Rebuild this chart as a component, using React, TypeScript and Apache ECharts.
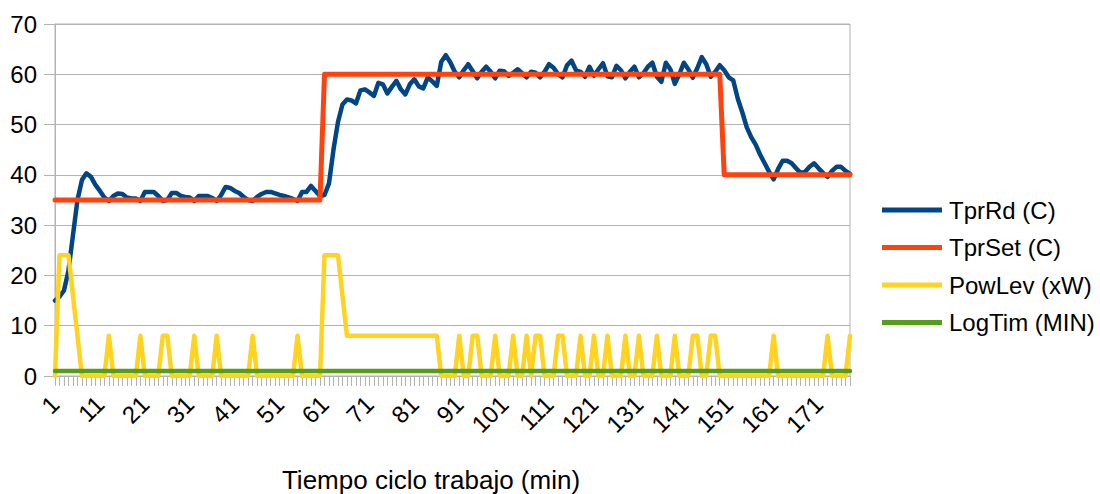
import React, { useEffect, useRef } from "react";
import * as echarts from "echarts";

const FONT = "Liberation Sans";

const categories: string[] = Array.from({ length: 178 }, (_, i) => String(i + 1));

const seriesNames = ["TprRd (C)", "TprSet (C)", "PowLev (xW)", "LogTim (MIN)"];
const seriesColors = ["#004586", "#ff420e", "#ffd320", "#579d1c"];

const tprRd = [
  15, 15.8, 17, 21, 28, 35, 39, 40.3, 39.6, 38,
  36.8, 35.5, 34.8, 35.8, 36.3, 36.2, 35.5, 35.3, 35.3, 34.8,
  36.6, 36.6, 36.6, 35.8, 34.8, 35, 36.4, 36.4, 35.8, 35.6,
  35.5, 34.8, 35.8, 35.8, 35.8, 35.4, 34.8, 36, 37.6, 37.4,
  36.8, 36.4, 35.6, 35, 34.8, 35.6, 36.2, 36.6, 36.6, 36.3,
  36, 35.8, 35.5, 35.2, 34.8, 36.6, 36.6, 37.8, 36.8, 35.8,
  36, 38.3, 45, 50.5, 54, 55, 54.8, 54.2, 56.8, 57,
  56.4, 55.7, 58.3, 58, 56.2, 57.5, 58.7, 57, 56, 58,
  59, 57.6, 57.2, 59.4, 58.6, 57.7, 62.5, 63.8, 62.4, 60.5,
  59.4, 60.8, 62, 60.6, 59.2, 60.5, 61.5, 60.5, 59.2, 60.7,
  60.6, 59.7, 60.3, 61, 60.2, 59.4, 60.5, 60.3, 59.4, 60.5,
  62, 61.3, 60, 59.4, 61.8, 62.7, 60.8, 60.5, 59.5, 61.5,
  59.7, 61, 62.2, 59.6, 59.4, 61.7, 60.8, 59.2, 60.5, 61.5,
  59.4, 60.2, 61.5, 62.3, 59.5, 58.5, 62.3, 61, 58.1, 60,
  62.3, 61, 59.3, 61.2, 63.4, 62, 59.5, 60.5, 61.8, 60.8,
  59.4, 58.8, 55.2, 52.5, 49.5, 47.5, 46, 44, 42.3, 40.6,
  39.1, 41.2, 42.8, 42.8, 42.3, 41.3, 40.4, 40.6, 41.6, 42.3,
  41.3, 40.4, 39.6, 40.8, 41.6, 41.6, 40.8, 40.2,
];

const tprSet = [
  35, 35, 35, 35, 35, 35, 35, 35, 35, 35,
  35, 35, 35, 35, 35, 35, 35, 35, 35, 35,
  35, 35, 35, 35, 35, 35, 35, 35, 35, 35,
  35, 35, 35, 35, 35, 35, 35, 35, 35, 35,
  35, 35, 35, 35, 35, 35, 35, 35, 35, 35,
  35, 35, 35, 35, 35, 35, 35, 35, 35, 35,
  60, 60, 60, 60, 60, 60, 60, 60, 60, 60,
  60, 60, 60, 60, 60, 60, 60, 60, 60, 60,
  60, 60, 60, 60, 60, 60, 60, 60, 60, 60,
  60, 60, 60, 60, 60, 60, 60, 60, 60, 60,
  60, 60, 60, 60, 60, 60, 60, 60, 60, 60,
  60, 60, 60, 60, 60, 60, 60, 60, 60, 60,
  60, 60, 60, 60, 60, 60, 60, 60, 60, 60,
  60, 60, 60, 60, 60, 60, 60, 60, 60, 60,
  60, 60, 60, 60, 60, 60, 60, 60, 60, 40,
  40, 40, 40, 40, 40, 40, 40, 40, 40, 40,
  40, 40, 40, 40, 40, 40, 40, 40, 40, 40,
  40, 40, 40, 40, 40, 40, 40, 40,
];

const powLev = [
  0, 24, 24, 24, 16, 8, 0, 0, 0, 0,
  0, 0, 8, 0, 0, 0, 0, 0, 0, 8,
  0, 0, 0, 0, 8, 8, 0, 0, 0, 0,
  0, 8, 0, 0, 0, 0, 8, 0, 0, 0,
  0, 0, 0, 0, 8, 0, 0, 0, 0, 0,
  0, 0, 0, 0, 8, 0, 0, 0, 0, 0,
  24, 24, 24, 24, 16, 8, 8, 8, 8, 8,
  8, 8, 8, 8, 8, 8, 8, 8, 8, 8,
  8, 8, 8, 8, 8, 8, 0, 0, 0, 0,
  8, 0, 0, 8, 8, 0, 0, 0, 8, 0,
  0, 0, 8, 0, 0, 8, 0, 8, 8, 0,
  0, 0, 8, 8, 0, 0, 0, 8, 0, 0,
  8, 0, 0, 8, 0, 0, 0, 8, 0, 0,
  8, 0, 0, 0, 8, 0, 0, 0, 8, 0,
  0, 0, 8, 8, 0, 0, 8, 8, 0, 0,
  0, 0, 0, 0, 0, 0, 0, 0, 0, 0,
  8, 0, 0, 0, 0, 0, 0, 0, 0, 0,
  0, 0, 8, 0, 0, 0, 0, 8,
];

const logTim = [
  1, 1, 1, 1, 1, 1, 1, 1, 1, 1,
  1, 1, 1, 1, 1, 1, 1, 1, 1, 1,
  1, 1, 1, 1, 1, 1, 1, 1, 1, 1,
  1, 1, 1, 1, 1, 1, 1, 1, 1, 1,
  1, 1, 1, 1, 1, 1, 1, 1, 1, 1,
  1, 1, 1, 1, 1, 1, 1, 1, 1, 1,
  1, 1, 1, 1, 1, 1, 1, 1, 1, 1,
  1, 1, 1, 1, 1, 1, 1, 1, 1, 1,
  1, 1, 1, 1, 1, 1, 1, 1, 1, 1,
  1, 1, 1, 1, 1, 1, 1, 1, 1, 1,
  1, 1, 1, 1, 1, 1, 1, 1, 1, 1,
  1, 1, 1, 1, 1, 1, 1, 1, 1, 1,
  1, 1, 1, 1, 1, 1, 1, 1, 1, 1,
  1, 1, 1, 1, 1, 1, 1, 1, 1, 1,
  1, 1, 1, 1, 1, 1, 1, 1, 1, 1,
  1, 1, 1, 1, 1, 1, 1, 1, 1, 1,
  1, 1, 1, 1, 1, 1, 1, 1, 1, 1,
  1, 1, 1, 1, 1, 1, 1, 1,
];

const yTicks = { min: 0, max: 70, interval: 10 };
const xAxisTitle = "Tiempo ciclo trabajo (min)";

export default function App() {
  const ref = useRef<HTMLDivElement>(null);

  useEffect(() => {
    if (!ref.current) return;
    const chart = echarts.init(ref.current, null, { renderer: "svg" });
    const allData = [tprRd, tprSet, powLev, logTim];
    chart.setOption({
      animation: false,
      backgroundColor: "#ffffff",
      grid: {
        left: 55,
        right: 250,
        top: 24,
        bottom: 118,
        show: true,
        borderColor: "#b3b3b3",
        borderWidth: 1,
      },
      legend: {
        orient: "vertical",
        left: 882,
        top: 198,
        padding: 0,
        itemWidth: 60,
        itemHeight: 5,
        itemGap: 13.5,
        icon: "rect",
        data: seriesNames,
        textStyle: {
          fontFamily: FONT,
          fontSize: 24,
          lineHeight: 24,
          color: "#000",
          padding: [0, 0, 0, 2],
        },
      },
      xAxis: {
        type: "category",
        data: categories,
        boundaryGap: false,
        axisLine: { show: true, lineStyle: { color: "#b3b3b3", width: 1 } },
        axisTick: {
          show: true,
          interval: 0,
          length: 10,
          lineStyle: { color: "#b3b3b3", width: 1 },
        },
        axisLabel: {
          interval: 9,
          rotate: 45,
          margin: 24,
          fontFamily: FONT,
          fontSize: 24,
          color: "#000",
        },
        splitLine: { show: false },
      },
      yAxis: {
        type: "value",
        min: yTicks.min,
        max: yTicks.max,
        interval: yTicks.interval,
        axisLine: { show: true, lineStyle: { color: "#b3b3b3", width: 1 } },
        axisTick: { show: true, length: 11, lineStyle: { color: "#b3b3b3" } },
        axisLabel: {
          margin: 18,
          fontFamily: FONT,
          fontSize: 24,
          color: "#000",
        },
        splitLine: { show: true, lineStyle: { color: "#b3b3b3", width: 1 } },
      },
      graphic: [
        {
          type: "text",
          x: 431,
          y: 480,
          style: {
            text: xAxisTitle,
            font: `26px "${FONT}"`,
            fill: "#000",
            textAlign: "center",
            textVerticalAlign: "middle",
          },
        },
      ],
      series: seriesNames.map((name, i) => ({
        name,
        type: "line",
        data: allData[i],
        showSymbol: false,
        symbol: "none",
        color: seriesColors[i],
        lineStyle: {
          color: seriesColors[i],
          width: i === 1 ? 5 : 4.5,
          cap: "round",
          join: "round",
        },
        z: 2 + i,
      })),
    });
    return () => chart.dispose();
  }, []);

  return (
    <div
      ref={ref}
      style={{ position: "fixed", left: 0, top: 0, width: 1100, height: 494 }}
    />
  );
}
